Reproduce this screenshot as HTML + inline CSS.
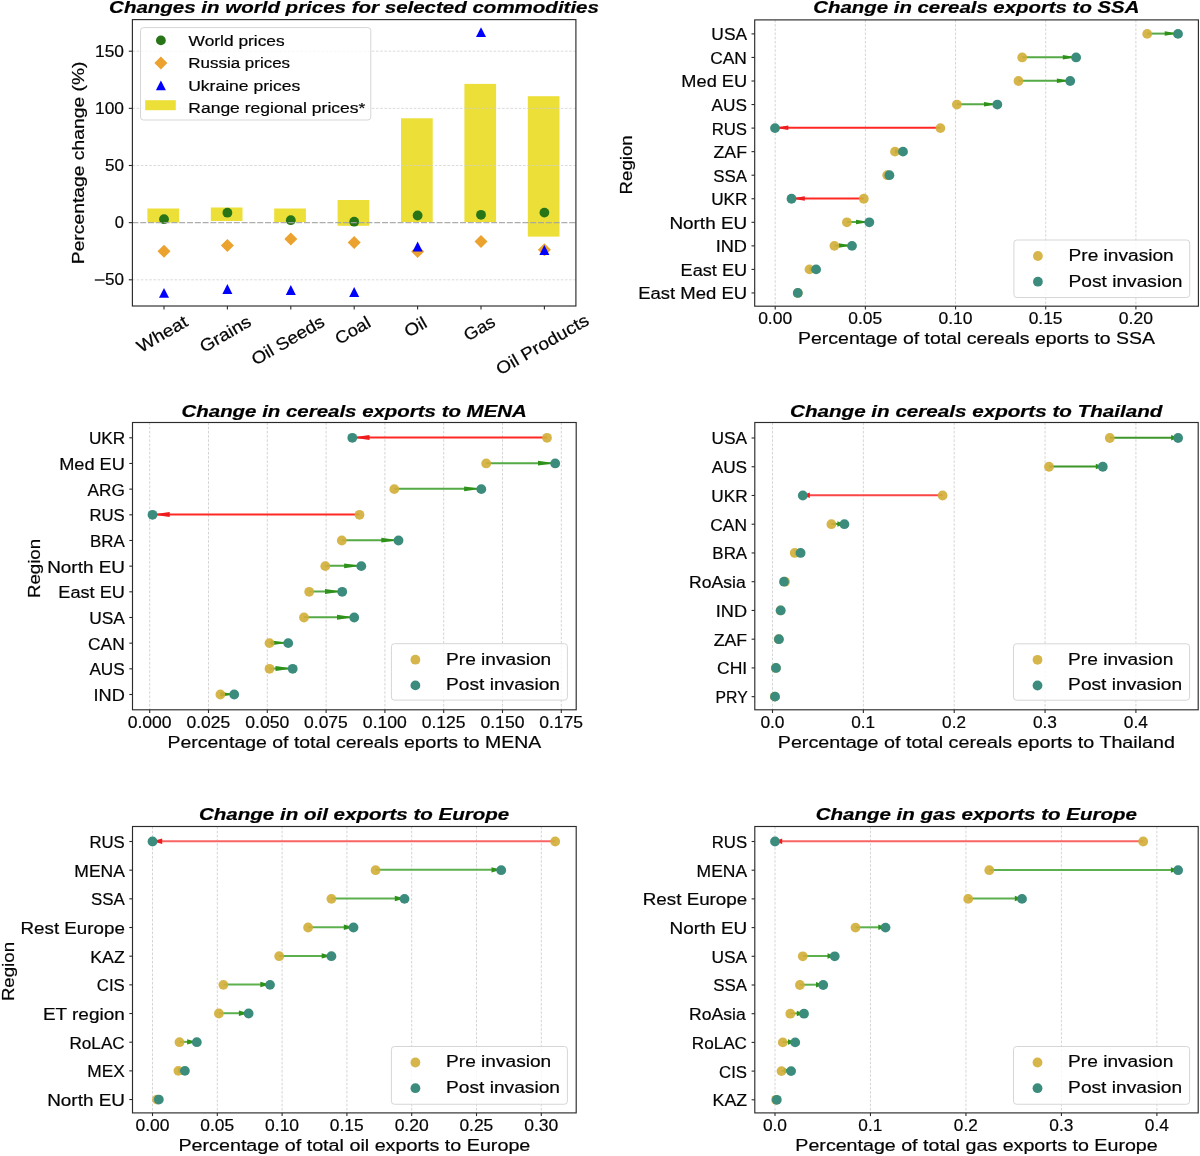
<!DOCTYPE html><html><head><meta charset="utf-8"><title>Commodity export changes</title><style>html,body{margin:0;padding:0;background:#fff;}svg{display:block;filter:blur(0.4px);}text{font-family:"Liberation Sans",sans-serif;stroke:#000;stroke-width:0.2px;}</style></head><body>
<svg width="1200" height="1156" viewBox="0 0 1200 1156">
<rect width="1200" height="1156" fill="#fff"/>
<rect x="147.40" y="208.50" width="31.7" height="14.00" fill="#ecdf38"/>
<rect x="210.80" y="207.50" width="31.7" height="13.50" fill="#ecdf38"/>
<rect x="274.20" y="208.50" width="31.7" height="13.60" fill="#ecdf38"/>
<rect x="337.60" y="200.00" width="31.7" height="25.80" fill="#ecdf38"/>
<rect x="401.00" y="118.30" width="31.7" height="103.70" fill="#ecdf38"/>
<rect x="464.40" y="83.90" width="31.7" height="138.10" fill="#ecdf38"/>
<rect x="527.80" y="96.20" width="31.7" height="140.40" fill="#ecdf38"/>
<line x1="132.40" y1="51.20" x2="575.90" y2="51.20" stroke="#d0d0d0" stroke-width="0.9" stroke-dasharray="2.6 1.6" stroke-opacity="0.85"/>
<line x1="132.40" y1="108.35" x2="575.90" y2="108.35" stroke="#d0d0d0" stroke-width="0.9" stroke-dasharray="2.6 1.6" stroke-opacity="0.85"/>
<line x1="132.40" y1="165.50" x2="575.90" y2="165.50" stroke="#d0d0d0" stroke-width="0.9" stroke-dasharray="2.6 1.6" stroke-opacity="0.85"/>
<line x1="132.40" y1="279.80" x2="575.90" y2="279.80" stroke="#d0d0d0" stroke-width="0.9" stroke-dasharray="2.6 1.6" stroke-opacity="0.85"/>
<circle cx="164.00" cy="219.20" r="4.9" fill="#277517"/>
<circle cx="227.40" cy="212.70" r="4.9" fill="#277517"/>
<circle cx="290.80" cy="220.20" r="4.9" fill="#277517"/>
<circle cx="354.20" cy="221.70" r="4.9" fill="#277517"/>
<circle cx="417.60" cy="215.50" r="4.9" fill="#277517"/>
<circle cx="481.00" cy="214.80" r="4.9" fill="#277517"/>
<circle cx="544.40" cy="212.60" r="4.9" fill="#277517"/>
<line x1="132.40" y1="222.65" x2="575.90" y2="222.65" stroke="#a4a4a4" stroke-width="1.35" stroke-dasharray="6 1.8" stroke-opacity="0.9"/>
<path d="M164.00 244.75 l6.5 6.5 l-6.5 6.5 l-6.5 -6.5 Z" fill="#eba22e"/>
<path d="M227.40 239.10 l6.5 6.5 l-6.5 6.5 l-6.5 -6.5 Z" fill="#eba22e"/>
<path d="M290.80 232.50 l6.5 6.5 l-6.5 6.5 l-6.5 -6.5 Z" fill="#eba22e"/>
<path d="M354.20 236.00 l6.5 6.5 l-6.5 6.5 l-6.5 -6.5 Z" fill="#eba22e"/>
<path d="M417.60 244.90 l6.5 6.5 l-6.5 6.5 l-6.5 -6.5 Z" fill="#eba22e"/>
<path d="M481.00 235.00 l6.5 6.5 l-6.5 6.5 l-6.5 -6.5 Z" fill="#eba22e"/>
<path d="M544.40 243.20 l6.5 6.5 l-6.5 6.5 l-6.5 -6.5 Z" fill="#eba22e"/>
<path d="M164.00 287.90 L169.00 297.80 L159.00 297.80 Z" fill="#0000ff"/>
<path d="M227.40 284.05 L232.40 293.95 L222.40 293.95 Z" fill="#0000ff"/>
<path d="M290.80 285.05 L295.80 294.95 L285.80 294.95 Z" fill="#0000ff"/>
<path d="M354.20 287.05 L359.20 296.95 L349.20 296.95 Z" fill="#0000ff"/>
<path d="M417.60 241.55 L422.60 251.45 L412.60 251.45 Z" fill="#0000ff"/>
<path d="M481.00 27.15 L486.00 37.05 L476.00 37.05 Z" fill="#0000ff"/>
<path d="M544.40 245.05 L549.40 254.95 L539.40 254.95 Z" fill="#0000ff"/>
<rect x="140.50" y="27.60" width="230.30" height="92.40" rx="3" ry="3" fill="#fff" fill-opacity="0.8" stroke="#d6d6d6" stroke-width="1"/>
<circle cx="160.9" cy="40.4" r="4.9" fill="#277517"/>
<path d="M160.9 56.4 l6.5 6.5 l-6.5 6.5 l-6.5 -6.5 Z" fill="#eba22e"/>
<path d="M160.9 80.4 L165.9 90.3 L155.9 90.3 Z" fill="#0000ff"/>
<rect x="145.2" y="100.2" width="30.6" height="10.0" fill="#ecdf38"/>
<text x="188.62" y="45.80" font-size="15.44" textLength="96.03" lengthAdjust="spacingAndGlyphs" fill="#050505">World prices</text>
<text x="188.32" y="68.25" font-size="15.44" textLength="101.79" lengthAdjust="spacingAndGlyphs" fill="#050505">Russia prices</text>
<text x="188.21" y="90.70" font-size="15.44" textLength="111.97" lengthAdjust="spacingAndGlyphs" fill="#050505">Ukraine prices</text>
<text x="188.28" y="113.15" font-size="15.44" textLength="177.10" lengthAdjust="spacingAndGlyphs" fill="#050505">Range regional prices*</text>
<rect x="132.40" y="19.60" width="443.50" height="286.40" fill="none" stroke="#2b2b2b" stroke-width="1.15"/>
<line x1="128.80" y1="51.20" x2="132.40" y2="51.20" stroke="#2b2b2b" stroke-width="1.1"/>
<text x="95.04" y="56.80" font-size="16.61" textLength="29.00" lengthAdjust="spacingAndGlyphs" fill="#050505">150</text>
<line x1="128.80" y1="108.35" x2="132.40" y2="108.35" stroke="#2b2b2b" stroke-width="1.1"/>
<text x="95.04" y="113.95" font-size="16.61" textLength="29.00" lengthAdjust="spacingAndGlyphs" fill="#050505">100</text>
<line x1="128.80" y1="165.50" x2="132.40" y2="165.50" stroke="#2b2b2b" stroke-width="1.1"/>
<text x="105.08" y="171.10" font-size="16.61" textLength="18.99" lengthAdjust="spacingAndGlyphs" fill="#050505">50</text>
<line x1="128.80" y1="222.65" x2="132.40" y2="222.65" stroke="#2b2b2b" stroke-width="1.1"/>
<text x="114.83" y="228.25" font-size="16.61" textLength="9.18" lengthAdjust="spacingAndGlyphs" fill="#050505">0</text>
<line x1="128.80" y1="279.80" x2="132.40" y2="279.80" stroke="#2b2b2b" stroke-width="1.1"/>
<text x="105.08" y="285.40" font-size="16.61" textLength="18.99" lengthAdjust="spacingAndGlyphs" fill="#050505">50</text>
<rect x="94.8" y="279.35" width="9.8" height="1.3" fill="#050505"/>
<line x1="164.00" y1="306.00" x2="164.00" y2="309.60" stroke="#2b2b2b" stroke-width="1.1"/>
<line x1="227.40" y1="306.00" x2="227.40" y2="309.60" stroke="#2b2b2b" stroke-width="1.1"/>
<line x1="290.80" y1="306.00" x2="290.80" y2="309.60" stroke="#2b2b2b" stroke-width="1.1"/>
<line x1="354.20" y1="306.00" x2="354.20" y2="309.60" stroke="#2b2b2b" stroke-width="1.1"/>
<line x1="417.60" y1="306.00" x2="417.60" y2="309.60" stroke="#2b2b2b" stroke-width="1.1"/>
<line x1="481.00" y1="306.00" x2="481.00" y2="309.60" stroke="#2b2b2b" stroke-width="1.1"/>
<line x1="544.40" y1="306.00" x2="544.40" y2="309.60" stroke="#2b2b2b" stroke-width="1.1"/>
<text x="137.23" y="339.09" font-size="17.23" textLength="55.66" lengthAdjust="spacingAndGlyphs" transform="rotate(-30 164.97 339.09)" fill="#050505">Wheat</text>
<text x="200.26" y="339.04" font-size="17.23" textLength="56.04" lengthAdjust="spacingAndGlyphs" transform="rotate(-30 228.37 339.04)" fill="#050505">Grains</text>
<text x="250.21" y="345.35" font-size="17.23" textLength="81.20" lengthAdjust="spacingAndGlyphs" transform="rotate(-30 290.87 345.35)" fill="#050505">Oil Seeds</text>
<text x="336.66" y="335.36" font-size="17.23" textLength="37.86" lengthAdjust="spacingAndGlyphs" transform="rotate(-30 355.77 335.36)" fill="#050505">Coal</text>
<text x="406.95" y="332.03" font-size="17.23" textLength="22.95" lengthAdjust="spacingAndGlyphs" transform="rotate(-30 418.57 332.03)" fill="#050505">Oil</text>
<text x="465.92" y="333.29" font-size="17.23" textLength="32.91" lengthAdjust="spacingAndGlyphs" transform="rotate(-30 482.47 333.29)" fill="#050505">Gas</text>
<text x="493.41" y="349.59" font-size="17.23" textLength="103.78" lengthAdjust="spacingAndGlyphs" transform="rotate(-30 545.37 349.59)" fill="#050505">Oil Products</text>
<text x="109.10" y="13.00" font-size="17.23" textLength="489.82" lengthAdjust="spacingAndGlyphs" font-weight="bold" font-style="italic" fill="#000">Changes in world prices for selected commodities</text>
<text x="-17.54" y="162.80" font-size="17.23" textLength="202.71" lengthAdjust="spacingAndGlyphs" transform="rotate(-90 83.90 162.80)" fill="#050505">Percentage change (%)</text>
<line x1="775.20" y1="19.90" x2="775.20" y2="306.20" stroke="#d0d0d0" stroke-width="0.9" stroke-dasharray="2.6 1.6"/>
<line x1="865.38" y1="19.90" x2="865.38" y2="306.20" stroke="#d0d0d0" stroke-width="0.9" stroke-dasharray="2.6 1.6"/>
<line x1="955.55" y1="19.90" x2="955.55" y2="306.20" stroke="#d0d0d0" stroke-width="0.9" stroke-dasharray="2.6 1.6"/>
<line x1="1045.72" y1="19.90" x2="1045.72" y2="306.20" stroke="#d0d0d0" stroke-width="0.9" stroke-dasharray="2.6 1.6"/>
<line x1="1135.90" y1="19.90" x2="1135.90" y2="306.20" stroke="#d0d0d0" stroke-width="0.9" stroke-dasharray="2.6 1.6"/>
<line x1="1147.20" y1="33.60" x2="1178.00" y2="33.60" stroke="#55aa46" stroke-width="2"/>
<path d="M1164.70 31.36 L1178.00 33.60 L1164.70 35.84 Z" fill="#2d911a"/>
<line x1="1022.20" y1="57.15" x2="1076.10" y2="57.15" stroke="#55aa46" stroke-width="2"/>
<path d="M1062.80 54.91 L1076.10 57.15 L1062.80 59.39 Z" fill="#2d911a"/>
<line x1="1018.50" y1="80.70" x2="1070.20" y2="80.70" stroke="#55aa46" stroke-width="2"/>
<path d="M1056.90 78.46 L1070.20 80.70 L1056.90 82.94 Z" fill="#2d911a"/>
<line x1="956.90" y1="104.25" x2="997.30" y2="104.25" stroke="#55aa46" stroke-width="2"/>
<path d="M984.00 102.01 L997.30 104.25 L984.00 106.49 Z" fill="#2d911a"/>
<line x1="940.40" y1="127.80" x2="775.00" y2="127.80" stroke="#ff2823" stroke-width="2"/>
<path d="M788.30 125.56 L775.00 127.80 L788.30 130.04 Z" fill="#ee1c1c"/>
<line x1="895.00" y1="151.35" x2="903.00" y2="151.35" stroke="#55aa46" stroke-width="2"/>
<path d="M895.00 149.11 L903.00 151.35 L895.00 153.59 Z" fill="#2d911a"/>
<line x1="887.20" y1="174.90" x2="889.40" y2="174.90" stroke="#55aa46" stroke-width="2"/>
<path d="M887.20 172.66 L889.40 174.90 L887.20 177.14 Z" fill="#2d911a"/>
<line x1="863.80" y1="198.45" x2="791.50" y2="198.45" stroke="#ff2823" stroke-width="2"/>
<path d="M804.80 196.21 L791.50 198.45 L804.80 200.69 Z" fill="#ee1c1c"/>
<line x1="846.90" y1="222.00" x2="869.30" y2="222.00" stroke="#55aa46" stroke-width="2"/>
<path d="M856.00 219.76 L869.30 222.00 L856.00 224.24 Z" fill="#2d911a"/>
<line x1="834.40" y1="245.55" x2="852.00" y2="245.55" stroke="#55aa46" stroke-width="2"/>
<path d="M838.70 243.31 L852.00 245.55 L838.70 247.79 Z" fill="#2d911a"/>
<line x1="809.50" y1="269.10" x2="816.10" y2="269.10" stroke="#55aa46" stroke-width="2"/>
<path d="M809.50 266.86 L816.10 269.10 L809.50 271.34 Z" fill="#2d911a"/>
<circle cx="1147.20" cy="33.90" r="4.9" fill="#d1ae37" fill-opacity="0.9"/>
<circle cx="1022.20" cy="57.45" r="4.9" fill="#d1ae37" fill-opacity="0.9"/>
<circle cx="1018.50" cy="81.00" r="4.9" fill="#d1ae37" fill-opacity="0.9"/>
<circle cx="956.90" cy="104.55" r="4.9" fill="#d1ae37" fill-opacity="0.9"/>
<circle cx="940.40" cy="128.10" r="4.9" fill="#d1ae37" fill-opacity="0.9"/>
<circle cx="895.00" cy="151.65" r="4.9" fill="#d1ae37" fill-opacity="0.9"/>
<circle cx="887.20" cy="175.20" r="4.9" fill="#d1ae37" fill-opacity="0.9"/>
<circle cx="863.80" cy="198.75" r="4.9" fill="#d1ae37" fill-opacity="0.9"/>
<circle cx="846.90" cy="222.30" r="4.9" fill="#d1ae37" fill-opacity="0.9"/>
<circle cx="834.40" cy="245.85" r="4.9" fill="#d1ae37" fill-opacity="0.9"/>
<circle cx="809.50" cy="269.40" r="4.9" fill="#d1ae37" fill-opacity="0.9"/>
<circle cx="797.80" cy="292.95" r="4.9" fill="#d1ae37" fill-opacity="0.9"/>
<circle cx="1178.00" cy="33.90" r="4.9" fill="#3b8c7d"/>
<circle cx="1076.10" cy="57.45" r="4.9" fill="#3b8c7d"/>
<circle cx="1070.20" cy="81.00" r="4.9" fill="#3b8c7d"/>
<circle cx="997.30" cy="104.55" r="4.9" fill="#3b8c7d"/>
<circle cx="775.00" cy="128.10" r="4.9" fill="#3b8c7d"/>
<circle cx="903.00" cy="151.65" r="4.9" fill="#3b8c7d"/>
<circle cx="889.40" cy="175.20" r="4.9" fill="#3b8c7d"/>
<circle cx="791.50" cy="198.75" r="4.9" fill="#3b8c7d"/>
<circle cx="869.30" cy="222.30" r="4.9" fill="#3b8c7d"/>
<circle cx="852.00" cy="245.85" r="4.9" fill="#3b8c7d"/>
<circle cx="816.10" cy="269.40" r="4.9" fill="#3b8c7d"/>
<circle cx="797.80" cy="292.95" r="4.9" fill="#3b8c7d"/>
<rect x="1013.90" y="240.00" width="175.80" height="57.50" rx="3" ry="3" fill="#fff" fill-opacity="0.8" stroke="#d6d6d6" stroke-width="1"/>
<circle cx="1037.90" cy="256.00" r="4.9" fill="#d1ae37" fill-opacity="0.9"/>
<circle cx="1037.90" cy="281.70" r="4.9" fill="#3b8c7d"/>
<text x="1068.52" y="260.80" font-size="17.23" textLength="105.23" lengthAdjust="spacingAndGlyphs" fill="#050505">Pre invasion</text>
<text x="1068.52" y="286.50" font-size="17.23" textLength="113.97" lengthAdjust="spacingAndGlyphs" fill="#050505">Post invasion</text>
<rect x="754.70" y="19.90" width="443.70" height="286.30" fill="none" stroke="#2b2b2b" stroke-width="1.15"/>
<line x1="775.20" y1="306.20" x2="775.20" y2="309.40" stroke="#2b2b2b" stroke-width="1.1"/>
<text x="758.15" y="324.20" font-size="16.61" textLength="34.06" lengthAdjust="spacingAndGlyphs" fill="#050505">0.00</text>
<line x1="865.38" y1="306.20" x2="865.38" y2="309.40" stroke="#2b2b2b" stroke-width="1.1"/>
<text x="848.33" y="324.20" font-size="16.61" textLength="33.78" lengthAdjust="spacingAndGlyphs" fill="#050505">0.05</text>
<line x1="955.55" y1="306.20" x2="955.55" y2="309.40" stroke="#2b2b2b" stroke-width="1.1"/>
<text x="938.50" y="324.20" font-size="16.61" textLength="34.06" lengthAdjust="spacingAndGlyphs" fill="#050505">0.10</text>
<line x1="1045.72" y1="306.20" x2="1045.72" y2="309.40" stroke="#2b2b2b" stroke-width="1.1"/>
<text x="1028.68" y="324.20" font-size="16.61" textLength="33.78" lengthAdjust="spacingAndGlyphs" fill="#050505">0.15</text>
<line x1="1135.90" y1="306.20" x2="1135.90" y2="309.40" stroke="#2b2b2b" stroke-width="1.1"/>
<text x="1118.85" y="324.20" font-size="16.61" textLength="34.06" lengthAdjust="spacingAndGlyphs" fill="#050505">0.20</text>
<line x1="751.50" y1="33.90" x2="754.70" y2="33.90" stroke="#2b2b2b" stroke-width="1.1"/>
<text x="711.37" y="40.30" font-size="17.23" textLength="35.69" lengthAdjust="spacingAndGlyphs" fill="#050505">USA</text>
<line x1="751.50" y1="57.45" x2="754.70" y2="57.45" stroke="#2b2b2b" stroke-width="1.1"/>
<text x="710.22" y="63.85" font-size="17.23" textLength="36.69" lengthAdjust="spacingAndGlyphs" fill="#050505">CAN</text>
<line x1="751.50" y1="81.00" x2="754.70" y2="81.00" stroke="#2b2b2b" stroke-width="1.1"/>
<text x="681.37" y="87.40" font-size="17.23" textLength="65.72" lengthAdjust="spacingAndGlyphs" fill="#050505">Med EU</text>
<line x1="751.50" y1="104.55" x2="754.70" y2="104.55" stroke="#2b2b2b" stroke-width="1.1"/>
<text x="711.60" y="110.95" font-size="17.23" textLength="35.38" lengthAdjust="spacingAndGlyphs" fill="#050505">AUS</text>
<line x1="751.50" y1="128.10" x2="754.70" y2="128.10" stroke="#2b2b2b" stroke-width="1.1"/>
<text x="711.64" y="134.50" font-size="17.23" textLength="35.35" lengthAdjust="spacingAndGlyphs" fill="#050505">RUS</text>
<line x1="751.50" y1="151.65" x2="754.70" y2="151.65" stroke="#2b2b2b" stroke-width="1.1"/>
<text x="713.58" y="158.05" font-size="17.23" textLength="33.36" lengthAdjust="spacingAndGlyphs" fill="#050505">ZAF</text>
<line x1="751.50" y1="175.20" x2="754.70" y2="175.20" stroke="#2b2b2b" stroke-width="1.1"/>
<text x="713.25" y="181.60" font-size="17.23" textLength="33.79" lengthAdjust="spacingAndGlyphs" fill="#050505">SSA</text>
<line x1="751.50" y1="198.75" x2="754.70" y2="198.75" stroke="#2b2b2b" stroke-width="1.1"/>
<text x="711.15" y="205.15" font-size="17.23" textLength="36.32" lengthAdjust="spacingAndGlyphs" fill="#050505">UKR</text>
<line x1="751.50" y1="222.30" x2="754.70" y2="222.30" stroke="#2b2b2b" stroke-width="1.1"/>
<text x="669.41" y="228.70" font-size="17.23" textLength="77.76" lengthAdjust="spacingAndGlyphs" fill="#050505">North EU</text>
<line x1="751.50" y1="245.85" x2="754.70" y2="245.85" stroke="#2b2b2b" stroke-width="1.1"/>
<text x="715.67" y="252.25" font-size="17.23" textLength="31.34" lengthAdjust="spacingAndGlyphs" fill="#050505">IND</text>
<line x1="751.50" y1="269.40" x2="754.70" y2="269.40" stroke="#2b2b2b" stroke-width="1.1"/>
<text x="680.59" y="275.80" font-size="17.23" textLength="66.51" lengthAdjust="spacingAndGlyphs" fill="#050505">East EU</text>
<line x1="751.50" y1="292.95" x2="754.70" y2="292.95" stroke="#2b2b2b" stroke-width="1.1"/>
<text x="638.27" y="299.35" font-size="17.23" textLength="108.81" lengthAdjust="spacingAndGlyphs" fill="#050505">East Med EU</text>
<text x="813.38" y="13.30" font-size="17.23" textLength="326.01" lengthAdjust="spacingAndGlyphs" font-weight="bold" font-style="italic" fill="#000">Change in cereals exports to SSA</text>
<text x="798.06" y="344.00" font-size="17.23" textLength="356.95" lengthAdjust="spacingAndGlyphs" fill="#050505">Percentage of total cereals eports to SSA</text>
<text x="602.67" y="164.75" font-size="17.23" textLength="59.16" lengthAdjust="spacingAndGlyphs" transform="rotate(-90 632.30 164.75)" fill="#050505">Region</text>
<line x1="149.70" y1="422.50" x2="149.70" y2="709.80" stroke="#d0d0d0" stroke-width="0.9" stroke-dasharray="2.6 1.6"/>
<line x1="208.50" y1="422.50" x2="208.50" y2="709.80" stroke="#d0d0d0" stroke-width="0.9" stroke-dasharray="2.6 1.6"/>
<line x1="267.30" y1="422.50" x2="267.30" y2="709.80" stroke="#d0d0d0" stroke-width="0.9" stroke-dasharray="2.6 1.6"/>
<line x1="326.10" y1="422.50" x2="326.10" y2="709.80" stroke="#d0d0d0" stroke-width="0.9" stroke-dasharray="2.6 1.6"/>
<line x1="384.90" y1="422.50" x2="384.90" y2="709.80" stroke="#d0d0d0" stroke-width="0.9" stroke-dasharray="2.6 1.6"/>
<line x1="443.70" y1="422.50" x2="443.70" y2="709.80" stroke="#d0d0d0" stroke-width="0.9" stroke-dasharray="2.6 1.6"/>
<line x1="502.50" y1="422.50" x2="502.50" y2="709.80" stroke="#d0d0d0" stroke-width="0.9" stroke-dasharray="2.6 1.6"/>
<line x1="561.30" y1="422.50" x2="561.30" y2="709.80" stroke="#d0d0d0" stroke-width="0.9" stroke-dasharray="2.6 1.6"/>
<line x1="547.00" y1="437.50" x2="352.30" y2="437.50" stroke="#ff2823" stroke-width="2"/>
<path d="M369.50 435.06 L352.30 437.50 L369.50 439.94 Z" fill="#ee1c1c"/>
<line x1="486.20" y1="463.17" x2="555.20" y2="463.17" stroke="#55aa46" stroke-width="2"/>
<path d="M538.00 460.73 L555.20 463.17 L538.00 465.61 Z" fill="#2d911a"/>
<line x1="394.30" y1="488.84" x2="481.30" y2="488.84" stroke="#55aa46" stroke-width="2"/>
<path d="M464.10 486.40 L481.30 488.84 L464.10 491.28 Z" fill="#2d911a"/>
<line x1="359.50" y1="514.51" x2="152.50" y2="514.51" stroke="#ff2823" stroke-width="2"/>
<path d="M169.70 512.07 L152.50 514.51 L169.70 516.95 Z" fill="#ee1c1c"/>
<line x1="341.80" y1="540.18" x2="398.50" y2="540.18" stroke="#55aa46" stroke-width="2"/>
<path d="M381.30 537.74 L398.50 540.18 L381.30 542.62 Z" fill="#2d911a"/>
<line x1="325.30" y1="565.85" x2="361.30" y2="565.85" stroke="#55aa46" stroke-width="2"/>
<path d="M344.10 563.41 L361.30 565.85 L344.10 568.29 Z" fill="#2d911a"/>
<line x1="309.20" y1="591.52" x2="342.20" y2="591.52" stroke="#55aa46" stroke-width="2"/>
<path d="M325.00 589.08 L342.20 591.52 L325.00 593.96 Z" fill="#2d911a"/>
<line x1="304.00" y1="617.19" x2="354.20" y2="617.19" stroke="#55aa46" stroke-width="2"/>
<path d="M337.00 614.75 L354.20 617.19 L337.00 619.63 Z" fill="#2d911a"/>
<line x1="269.50" y1="642.86" x2="288.20" y2="642.86" stroke="#55aa46" stroke-width="2"/>
<path d="M271.00 640.42 L288.20 642.86 L271.00 645.30 Z" fill="#2d911a"/>
<line x1="269.50" y1="668.53" x2="292.70" y2="668.53" stroke="#55aa46" stroke-width="2"/>
<path d="M275.50 666.09 L292.70 668.53 L275.50 670.97 Z" fill="#2d911a"/>
<line x1="220.40" y1="694.20" x2="234.20" y2="694.20" stroke="#55aa46" stroke-width="2"/>
<path d="M220.40 691.76 L234.20 694.20 L220.40 696.64 Z" fill="#2d911a"/>
<circle cx="547.00" cy="437.80" r="4.9" fill="#d1ae37" fill-opacity="0.9"/>
<circle cx="486.20" cy="463.47" r="4.9" fill="#d1ae37" fill-opacity="0.9"/>
<circle cx="394.30" cy="489.14" r="4.9" fill="#d1ae37" fill-opacity="0.9"/>
<circle cx="359.50" cy="514.81" r="4.9" fill="#d1ae37" fill-opacity="0.9"/>
<circle cx="341.80" cy="540.48" r="4.9" fill="#d1ae37" fill-opacity="0.9"/>
<circle cx="325.30" cy="566.15" r="4.9" fill="#d1ae37" fill-opacity="0.9"/>
<circle cx="309.20" cy="591.82" r="4.9" fill="#d1ae37" fill-opacity="0.9"/>
<circle cx="304.00" cy="617.49" r="4.9" fill="#d1ae37" fill-opacity="0.9"/>
<circle cx="269.50" cy="643.16" r="4.9" fill="#d1ae37" fill-opacity="0.9"/>
<circle cx="269.50" cy="668.83" r="4.9" fill="#d1ae37" fill-opacity="0.9"/>
<circle cx="220.40" cy="694.50" r="4.9" fill="#d1ae37" fill-opacity="0.9"/>
<circle cx="352.30" cy="437.80" r="4.9" fill="#3b8c7d"/>
<circle cx="555.20" cy="463.47" r="4.9" fill="#3b8c7d"/>
<circle cx="481.30" cy="489.14" r="4.9" fill="#3b8c7d"/>
<circle cx="152.50" cy="514.81" r="4.9" fill="#3b8c7d"/>
<circle cx="398.50" cy="540.48" r="4.9" fill="#3b8c7d"/>
<circle cx="361.30" cy="566.15" r="4.9" fill="#3b8c7d"/>
<circle cx="342.20" cy="591.82" r="4.9" fill="#3b8c7d"/>
<circle cx="354.20" cy="617.49" r="4.9" fill="#3b8c7d"/>
<circle cx="288.20" cy="643.16" r="4.9" fill="#3b8c7d"/>
<circle cx="292.70" cy="668.83" r="4.9" fill="#3b8c7d"/>
<circle cx="234.20" cy="694.50" r="4.9" fill="#3b8c7d"/>
<rect x="391.40" y="643.70" width="176.00" height="56.40" rx="3" ry="3" fill="#fff" fill-opacity="0.8" stroke="#d6d6d6" stroke-width="1"/>
<circle cx="415.40" cy="659.70" r="4.9" fill="#d1ae37" fill-opacity="0.9"/>
<circle cx="415.40" cy="685.40" r="4.9" fill="#3b8c7d"/>
<text x="446.02" y="664.50" font-size="17.23" textLength="105.23" lengthAdjust="spacingAndGlyphs" fill="#050505">Pre invasion</text>
<text x="446.02" y="690.20" font-size="17.23" textLength="113.97" lengthAdjust="spacingAndGlyphs" fill="#050505">Post invasion</text>
<rect x="132.50" y="422.50" width="443.70" height="287.30" fill="none" stroke="#2b2b2b" stroke-width="1.15"/>
<line x1="149.70" y1="709.80" x2="149.70" y2="713.00" stroke="#2b2b2b" stroke-width="1.1"/>
<text x="127.68" y="727.80" font-size="16.61" textLength="43.99" lengthAdjust="spacingAndGlyphs" fill="#050505">0.000</text>
<line x1="208.50" y1="709.80" x2="208.50" y2="713.00" stroke="#2b2b2b" stroke-width="1.1"/>
<text x="186.48" y="727.80" font-size="16.61" textLength="43.71" lengthAdjust="spacingAndGlyphs" fill="#050505">0.025</text>
<line x1="267.30" y1="709.80" x2="267.30" y2="713.00" stroke="#2b2b2b" stroke-width="1.1"/>
<text x="245.28" y="727.80" font-size="16.61" textLength="43.99" lengthAdjust="spacingAndGlyphs" fill="#050505">0.050</text>
<line x1="326.10" y1="709.80" x2="326.10" y2="713.00" stroke="#2b2b2b" stroke-width="1.1"/>
<text x="304.08" y="727.80" font-size="16.61" textLength="43.71" lengthAdjust="spacingAndGlyphs" fill="#050505">0.075</text>
<line x1="384.90" y1="709.80" x2="384.90" y2="713.00" stroke="#2b2b2b" stroke-width="1.1"/>
<text x="362.88" y="727.80" font-size="16.61" textLength="43.99" lengthAdjust="spacingAndGlyphs" fill="#050505">0.100</text>
<line x1="443.70" y1="709.80" x2="443.70" y2="713.00" stroke="#2b2b2b" stroke-width="1.1"/>
<text x="421.68" y="727.80" font-size="16.61" textLength="43.71" lengthAdjust="spacingAndGlyphs" fill="#050505">0.125</text>
<line x1="502.50" y1="709.80" x2="502.50" y2="713.00" stroke="#2b2b2b" stroke-width="1.1"/>
<text x="480.48" y="727.80" font-size="16.61" textLength="43.99" lengthAdjust="spacingAndGlyphs" fill="#050505">0.150</text>
<line x1="561.30" y1="709.80" x2="561.30" y2="713.00" stroke="#2b2b2b" stroke-width="1.1"/>
<text x="539.28" y="727.80" font-size="16.61" textLength="43.71" lengthAdjust="spacingAndGlyphs" fill="#050505">0.175</text>
<line x1="129.30" y1="437.80" x2="132.50" y2="437.80" stroke="#2b2b2b" stroke-width="1.1"/>
<text x="88.95" y="444.20" font-size="17.23" textLength="36.32" lengthAdjust="spacingAndGlyphs" fill="#050505">UKR</text>
<line x1="129.30" y1="463.47" x2="132.50" y2="463.47" stroke="#2b2b2b" stroke-width="1.1"/>
<text x="59.17" y="469.87" font-size="17.23" textLength="65.72" lengthAdjust="spacingAndGlyphs" fill="#050505">Med EU</text>
<line x1="129.30" y1="489.14" x2="132.50" y2="489.14" stroke="#2b2b2b" stroke-width="1.1"/>
<text x="87.61" y="495.54" font-size="17.23" textLength="37.26" lengthAdjust="spacingAndGlyphs" fill="#050505">ARG</text>
<line x1="129.30" y1="514.81" x2="132.50" y2="514.81" stroke="#2b2b2b" stroke-width="1.1"/>
<text x="89.44" y="521.21" font-size="17.23" textLength="35.35" lengthAdjust="spacingAndGlyphs" fill="#050505">RUS</text>
<line x1="129.30" y1="540.48" x2="132.50" y2="540.48" stroke="#2b2b2b" stroke-width="1.1"/>
<text x="90.07" y="546.88" font-size="17.23" textLength="34.78" lengthAdjust="spacingAndGlyphs" fill="#050505">BRA</text>
<line x1="129.30" y1="566.15" x2="132.50" y2="566.15" stroke="#2b2b2b" stroke-width="1.1"/>
<text x="47.21" y="572.55" font-size="17.23" textLength="77.76" lengthAdjust="spacingAndGlyphs" fill="#050505">North EU</text>
<line x1="129.30" y1="591.82" x2="132.50" y2="591.82" stroke="#2b2b2b" stroke-width="1.1"/>
<text x="58.39" y="598.22" font-size="17.23" textLength="66.51" lengthAdjust="spacingAndGlyphs" fill="#050505">East EU</text>
<line x1="129.30" y1="617.49" x2="132.50" y2="617.49" stroke="#2b2b2b" stroke-width="1.1"/>
<text x="89.17" y="623.89" font-size="17.23" textLength="35.69" lengthAdjust="spacingAndGlyphs" fill="#050505">USA</text>
<line x1="129.30" y1="643.16" x2="132.50" y2="643.16" stroke="#2b2b2b" stroke-width="1.1"/>
<text x="88.02" y="649.56" font-size="17.23" textLength="36.69" lengthAdjust="spacingAndGlyphs" fill="#050505">CAN</text>
<line x1="129.30" y1="668.83" x2="132.50" y2="668.83" stroke="#2b2b2b" stroke-width="1.1"/>
<text x="89.40" y="675.23" font-size="17.23" textLength="35.38" lengthAdjust="spacingAndGlyphs" fill="#050505">AUS</text>
<line x1="129.30" y1="694.50" x2="132.50" y2="694.50" stroke="#2b2b2b" stroke-width="1.1"/>
<text x="93.47" y="700.90" font-size="17.23" textLength="31.34" lengthAdjust="spacingAndGlyphs" fill="#050505">IND</text>
<text x="181.52" y="416.90" font-size="17.23" textLength="345.29" lengthAdjust="spacingAndGlyphs" font-weight="bold" font-style="italic" fill="#000">Change in cereals exports to MENA</text>
<text x="167.55" y="747.90" font-size="17.23" textLength="373.58" lengthAdjust="spacingAndGlyphs" fill="#050505">Percentage of total cereals eports to MENA</text>
<text x="10.57" y="568.40" font-size="17.23" textLength="59.16" lengthAdjust="spacingAndGlyphs" transform="rotate(-90 40.20 568.40)" fill="#050505">Region</text>
<line x1="772.50" y1="422.50" x2="772.50" y2="709.80" stroke="#d0d0d0" stroke-width="0.9" stroke-dasharray="2.6 1.6"/>
<line x1="863.35" y1="422.50" x2="863.35" y2="709.80" stroke="#d0d0d0" stroke-width="0.9" stroke-dasharray="2.6 1.6"/>
<line x1="954.20" y1="422.50" x2="954.20" y2="709.80" stroke="#d0d0d0" stroke-width="0.9" stroke-dasharray="2.6 1.6"/>
<line x1="1045.05" y1="422.50" x2="1045.05" y2="709.80" stroke="#d0d0d0" stroke-width="0.9" stroke-dasharray="2.6 1.6"/>
<line x1="1135.90" y1="422.50" x2="1135.90" y2="709.80" stroke="#d0d0d0" stroke-width="0.9" stroke-dasharray="2.6 1.6"/>
<line x1="1109.80" y1="437.70" x2="1178.10" y2="437.70" stroke="#3c9628" stroke-width="2"/>
<path d="M1171.10 434.97 L1178.10 437.70 L1171.10 440.43 Z" fill="#2d911a"/>
<line x1="1049.00" y1="466.44" x2="1102.80" y2="466.44" stroke="#3c9628" stroke-width="2"/>
<path d="M1095.80 463.71 L1102.80 466.44 L1095.80 469.17 Z" fill="#2d911a"/>
<line x1="942.60" y1="495.18" x2="802.80" y2="495.18" stroke="#fa4646" stroke-width="2"/>
<path d="M809.80 492.45 L802.80 495.18 L809.80 497.91 Z" fill="#ee1c1c"/>
<line x1="831.40" y1="523.92" x2="844.40" y2="523.92" stroke="#3c9628" stroke-width="2"/>
<path d="M837.40 521.19 L844.40 523.92 L837.40 526.65 Z" fill="#2d911a"/>
<line x1="794.70" y1="552.66" x2="800.60" y2="552.66" stroke="#3c9628" stroke-width="2"/>
<path d="M794.70 549.93 L800.60 552.66 L794.70 555.39 Z" fill="#2d911a"/>
<line x1="785.00" y1="581.40" x2="784.00" y2="581.40" stroke="#fa4646" stroke-width="2"/>
<path d="M785.00 578.67 L784.00 581.40 L785.00 584.13 Z" fill="#ee1c1c"/>
<circle cx="1109.80" cy="438.00" r="4.9" fill="#d1ae37" fill-opacity="0.9"/>
<circle cx="1049.00" cy="466.74" r="4.9" fill="#d1ae37" fill-opacity="0.9"/>
<circle cx="942.60" cy="495.48" r="4.9" fill="#d1ae37" fill-opacity="0.9"/>
<circle cx="831.40" cy="524.22" r="4.9" fill="#d1ae37" fill-opacity="0.9"/>
<circle cx="794.70" cy="552.96" r="4.9" fill="#d1ae37" fill-opacity="0.9"/>
<circle cx="785.00" cy="581.70" r="4.9" fill="#d1ae37" fill-opacity="0.9"/>
<circle cx="780.50" cy="610.44" r="4.9" fill="#d1ae37" fill-opacity="0.9"/>
<circle cx="778.70" cy="639.18" r="4.9" fill="#d1ae37" fill-opacity="0.9"/>
<circle cx="775.80" cy="667.92" r="4.9" fill="#d1ae37" fill-opacity="0.9"/>
<circle cx="774.80" cy="696.66" r="4.9" fill="#d1ae37" fill-opacity="0.9"/>
<circle cx="1178.10" cy="438.00" r="4.9" fill="#3b8c7d"/>
<circle cx="1102.80" cy="466.74" r="4.9" fill="#3b8c7d"/>
<circle cx="802.80" cy="495.48" r="4.9" fill="#3b8c7d"/>
<circle cx="844.40" cy="524.22" r="4.9" fill="#3b8c7d"/>
<circle cx="800.60" cy="552.96" r="4.9" fill="#3b8c7d"/>
<circle cx="784.00" cy="581.70" r="4.9" fill="#3b8c7d"/>
<circle cx="780.70" cy="610.44" r="4.9" fill="#3b8c7d"/>
<circle cx="778.90" cy="639.18" r="4.9" fill="#3b8c7d"/>
<circle cx="776.00" cy="667.92" r="4.9" fill="#3b8c7d"/>
<circle cx="775.00" cy="696.66" r="4.9" fill="#3b8c7d"/>
<rect x="1013.50" y="643.80" width="176.10" height="56.40" rx="3" ry="3" fill="#fff" fill-opacity="0.8" stroke="#d6d6d6" stroke-width="1"/>
<circle cx="1037.50" cy="659.80" r="4.9" fill="#d1ae37" fill-opacity="0.9"/>
<circle cx="1037.50" cy="685.50" r="4.9" fill="#3b8c7d"/>
<text x="1068.12" y="664.60" font-size="17.23" textLength="105.23" lengthAdjust="spacingAndGlyphs" fill="#050505">Pre invasion</text>
<text x="1068.12" y="690.30" font-size="17.23" textLength="113.97" lengthAdjust="spacingAndGlyphs" fill="#050505">Post invasion</text>
<rect x="754.80" y="422.50" width="443.40" height="287.30" fill="none" stroke="#2b2b2b" stroke-width="1.15"/>
<line x1="772.50" y1="709.80" x2="772.50" y2="713.00" stroke="#2b2b2b" stroke-width="1.1"/>
<text x="760.41" y="727.80" font-size="16.61" textLength="24.12" lengthAdjust="spacingAndGlyphs" fill="#050505">0.0</text>
<line x1="863.35" y1="709.80" x2="863.35" y2="713.00" stroke="#2b2b2b" stroke-width="1.1"/>
<text x="851.27" y="727.80" font-size="16.61" textLength="23.89" lengthAdjust="spacingAndGlyphs" fill="#050505">0.1</text>
<line x1="954.20" y1="709.80" x2="954.20" y2="713.00" stroke="#2b2b2b" stroke-width="1.1"/>
<text x="942.12" y="727.80" font-size="16.61" textLength="23.81" lengthAdjust="spacingAndGlyphs" fill="#050505">0.2</text>
<line x1="1045.05" y1="709.80" x2="1045.05" y2="713.00" stroke="#2b2b2b" stroke-width="1.1"/>
<text x="1032.97" y="727.80" font-size="16.61" textLength="24.01" lengthAdjust="spacingAndGlyphs" fill="#050505">0.3</text>
<line x1="1135.90" y1="709.80" x2="1135.90" y2="713.00" stroke="#2b2b2b" stroke-width="1.1"/>
<text x="1123.82" y="727.80" font-size="16.61" textLength="24.11" lengthAdjust="spacingAndGlyphs" fill="#050505">0.4</text>
<line x1="751.60" y1="438.00" x2="754.80" y2="438.00" stroke="#2b2b2b" stroke-width="1.1"/>
<text x="711.47" y="444.40" font-size="17.23" textLength="35.69" lengthAdjust="spacingAndGlyphs" fill="#050505">USA</text>
<line x1="751.60" y1="466.74" x2="754.80" y2="466.74" stroke="#2b2b2b" stroke-width="1.1"/>
<text x="711.70" y="473.14" font-size="17.23" textLength="35.38" lengthAdjust="spacingAndGlyphs" fill="#050505">AUS</text>
<line x1="751.60" y1="495.48" x2="754.80" y2="495.48" stroke="#2b2b2b" stroke-width="1.1"/>
<text x="711.25" y="501.88" font-size="17.23" textLength="36.32" lengthAdjust="spacingAndGlyphs" fill="#050505">UKR</text>
<line x1="751.60" y1="524.22" x2="754.80" y2="524.22" stroke="#2b2b2b" stroke-width="1.1"/>
<text x="710.32" y="530.62" font-size="17.23" textLength="36.69" lengthAdjust="spacingAndGlyphs" fill="#050505">CAN</text>
<line x1="751.60" y1="552.96" x2="754.80" y2="552.96" stroke="#2b2b2b" stroke-width="1.1"/>
<text x="712.37" y="559.36" font-size="17.23" textLength="34.78" lengthAdjust="spacingAndGlyphs" fill="#050505">BRA</text>
<line x1="751.60" y1="581.70" x2="754.80" y2="581.70" stroke="#2b2b2b" stroke-width="1.1"/>
<text x="689.13" y="588.10" font-size="17.23" textLength="56.58" lengthAdjust="spacingAndGlyphs" fill="#050505">RoAsia</text>
<line x1="751.60" y1="610.44" x2="754.80" y2="610.44" stroke="#2b2b2b" stroke-width="1.1"/>
<text x="715.77" y="616.84" font-size="17.23" textLength="31.34" lengthAdjust="spacingAndGlyphs" fill="#050505">IND</text>
<line x1="751.60" y1="639.18" x2="754.80" y2="639.18" stroke="#2b2b2b" stroke-width="1.1"/>
<text x="713.68" y="645.58" font-size="17.23" textLength="33.36" lengthAdjust="spacingAndGlyphs" fill="#050505">ZAF</text>
<line x1="751.60" y1="667.92" x2="754.80" y2="667.92" stroke="#2b2b2b" stroke-width="1.1"/>
<text x="717.02" y="674.32" font-size="17.23" textLength="30.20" lengthAdjust="spacingAndGlyphs" fill="#050505">CHI</text>
<line x1="751.60" y1="696.66" x2="754.80" y2="696.66" stroke="#2b2b2b" stroke-width="1.1"/>
<text x="715.60" y="703.06" font-size="17.23" textLength="32.11" lengthAdjust="spacingAndGlyphs" fill="#050505">PRY</text>
<text x="790.02" y="416.90" font-size="17.23" textLength="372.38" lengthAdjust="spacingAndGlyphs" font-weight="bold" font-style="italic" fill="#000">Change in cereals exports to Thailand</text>
<text x="777.78" y="747.90" font-size="17.23" textLength="397.21" lengthAdjust="spacingAndGlyphs" fill="#050505">Percentage of total cereals eports to Thailand</text>
<line x1="152.50" y1="826.50" x2="152.50" y2="1112.90" stroke="#d0d0d0" stroke-width="0.9" stroke-dasharray="2.6 1.6"/>
<line x1="217.30" y1="826.50" x2="217.30" y2="1112.90" stroke="#d0d0d0" stroke-width="0.9" stroke-dasharray="2.6 1.6"/>
<line x1="282.10" y1="826.50" x2="282.10" y2="1112.90" stroke="#d0d0d0" stroke-width="0.9" stroke-dasharray="2.6 1.6"/>
<line x1="346.90" y1="826.50" x2="346.90" y2="1112.90" stroke="#d0d0d0" stroke-width="0.9" stroke-dasharray="2.6 1.6"/>
<line x1="411.70" y1="826.50" x2="411.70" y2="1112.90" stroke="#d0d0d0" stroke-width="0.9" stroke-dasharray="2.6 1.6"/>
<line x1="476.50" y1="826.50" x2="476.50" y2="1112.90" stroke="#d0d0d0" stroke-width="0.9" stroke-dasharray="2.6 1.6"/>
<line x1="541.30" y1="826.50" x2="541.30" y2="1112.90" stroke="#d0d0d0" stroke-width="0.9" stroke-dasharray="2.6 1.6"/>
<line x1="555.20" y1="841.20" x2="152.50" y2="841.20" stroke="#fa6464" stroke-width="2"/>
<path d="M162.20 838.48 L152.50 841.20 L162.20 843.92 Z" fill="#ee1c1c"/>
<line x1="375.60" y1="869.87" x2="501.20" y2="869.87" stroke="#5cb04e" stroke-width="2"/>
<path d="M491.50 867.15 L501.20 869.87 L491.50 872.59 Z" fill="#2d911a"/>
<line x1="331.40" y1="898.54" x2="404.50" y2="898.54" stroke="#5cb04e" stroke-width="2"/>
<path d="M394.80 895.82 L404.50 898.54 L394.80 901.26 Z" fill="#2d911a"/>
<line x1="308.10" y1="927.21" x2="353.50" y2="927.21" stroke="#5cb04e" stroke-width="2"/>
<path d="M343.80 924.49 L353.50 927.21 L343.80 929.93 Z" fill="#2d911a"/>
<line x1="279.20" y1="955.88" x2="331.40" y2="955.88" stroke="#5cb04e" stroke-width="2"/>
<path d="M321.70 953.16 L331.40 955.88 L321.70 958.60 Z" fill="#2d911a"/>
<line x1="223.40" y1="984.55" x2="270.00" y2="984.55" stroke="#5cb04e" stroke-width="2"/>
<path d="M260.30 981.83 L270.00 984.55 L260.30 987.27 Z" fill="#2d911a"/>
<line x1="218.90" y1="1013.22" x2="248.60" y2="1013.22" stroke="#5cb04e" stroke-width="2"/>
<path d="M238.90 1010.50 L248.60 1013.22 L238.90 1015.94 Z" fill="#2d911a"/>
<line x1="179.50" y1="1041.89" x2="196.80" y2="1041.89" stroke="#5cb04e" stroke-width="2"/>
<path d="M187.10 1039.17 L196.80 1041.89 L187.10 1044.61 Z" fill="#2d911a"/>
<line x1="178.40" y1="1070.56" x2="184.90" y2="1070.56" stroke="#5cb04e" stroke-width="2"/>
<path d="M178.40 1067.84 L184.90 1070.56 L178.40 1073.28 Z" fill="#2d911a"/>
<line x1="157.00" y1="1099.23" x2="158.80" y2="1099.23" stroke="#5cb04e" stroke-width="2"/>
<path d="M157.00 1096.51 L158.80 1099.23 L157.00 1101.95 Z" fill="#2d911a"/>
<circle cx="555.20" cy="841.50" r="4.9" fill="#d1ae37" fill-opacity="0.9"/>
<circle cx="375.60" cy="870.17" r="4.9" fill="#d1ae37" fill-opacity="0.9"/>
<circle cx="331.40" cy="898.84" r="4.9" fill="#d1ae37" fill-opacity="0.9"/>
<circle cx="308.10" cy="927.51" r="4.9" fill="#d1ae37" fill-opacity="0.9"/>
<circle cx="279.20" cy="956.18" r="4.9" fill="#d1ae37" fill-opacity="0.9"/>
<circle cx="223.40" cy="984.85" r="4.9" fill="#d1ae37" fill-opacity="0.9"/>
<circle cx="218.90" cy="1013.52" r="4.9" fill="#d1ae37" fill-opacity="0.9"/>
<circle cx="179.50" cy="1042.19" r="4.9" fill="#d1ae37" fill-opacity="0.9"/>
<circle cx="178.40" cy="1070.86" r="4.9" fill="#d1ae37" fill-opacity="0.9"/>
<circle cx="157.00" cy="1099.53" r="4.9" fill="#d1ae37" fill-opacity="0.9"/>
<circle cx="152.50" cy="841.50" r="4.9" fill="#3b8c7d"/>
<circle cx="501.20" cy="870.17" r="4.9" fill="#3b8c7d"/>
<circle cx="404.50" cy="898.84" r="4.9" fill="#3b8c7d"/>
<circle cx="353.50" cy="927.51" r="4.9" fill="#3b8c7d"/>
<circle cx="331.40" cy="956.18" r="4.9" fill="#3b8c7d"/>
<circle cx="270.00" cy="984.85" r="4.9" fill="#3b8c7d"/>
<circle cx="248.60" cy="1013.52" r="4.9" fill="#3b8c7d"/>
<circle cx="196.80" cy="1042.19" r="4.9" fill="#3b8c7d"/>
<circle cx="184.90" cy="1070.86" r="4.9" fill="#3b8c7d"/>
<circle cx="158.80" cy="1099.53" r="4.9" fill="#3b8c7d"/>
<rect x="391.40" y="1046.50" width="176.00" height="57.75" rx="3" ry="3" fill="#fff" fill-opacity="0.8" stroke="#d6d6d6" stroke-width="1"/>
<circle cx="415.40" cy="1062.50" r="4.9" fill="#d1ae37" fill-opacity="0.9"/>
<circle cx="415.40" cy="1088.20" r="4.9" fill="#3b8c7d"/>
<text x="446.02" y="1067.30" font-size="17.23" textLength="105.23" lengthAdjust="spacingAndGlyphs" fill="#050505">Pre invasion</text>
<text x="446.02" y="1093.00" font-size="17.23" textLength="113.97" lengthAdjust="spacingAndGlyphs" fill="#050505">Post invasion</text>
<rect x="132.50" y="826.50" width="443.70" height="286.40" fill="none" stroke="#2b2b2b" stroke-width="1.15"/>
<line x1="152.50" y1="1112.90" x2="152.50" y2="1116.10" stroke="#2b2b2b" stroke-width="1.1"/>
<text x="135.45" y="1130.90" font-size="16.61" textLength="34.06" lengthAdjust="spacingAndGlyphs" fill="#050505">0.00</text>
<line x1="217.30" y1="1112.90" x2="217.30" y2="1116.10" stroke="#2b2b2b" stroke-width="1.1"/>
<text x="200.25" y="1130.90" font-size="16.61" textLength="33.78" lengthAdjust="spacingAndGlyphs" fill="#050505">0.05</text>
<line x1="282.10" y1="1112.90" x2="282.10" y2="1116.10" stroke="#2b2b2b" stroke-width="1.1"/>
<text x="265.05" y="1130.90" font-size="16.61" textLength="34.06" lengthAdjust="spacingAndGlyphs" fill="#050505">0.10</text>
<line x1="346.90" y1="1112.90" x2="346.90" y2="1116.10" stroke="#2b2b2b" stroke-width="1.1"/>
<text x="329.85" y="1130.90" font-size="16.61" textLength="33.78" lengthAdjust="spacingAndGlyphs" fill="#050505">0.15</text>
<line x1="411.70" y1="1112.90" x2="411.70" y2="1116.10" stroke="#2b2b2b" stroke-width="1.1"/>
<text x="394.65" y="1130.90" font-size="16.61" textLength="34.06" lengthAdjust="spacingAndGlyphs" fill="#050505">0.20</text>
<line x1="476.50" y1="1112.90" x2="476.50" y2="1116.10" stroke="#2b2b2b" stroke-width="1.1"/>
<text x="459.45" y="1130.90" font-size="16.61" textLength="33.78" lengthAdjust="spacingAndGlyphs" fill="#050505">0.25</text>
<line x1="541.30" y1="1112.90" x2="541.30" y2="1116.10" stroke="#2b2b2b" stroke-width="1.1"/>
<text x="524.25" y="1130.90" font-size="16.61" textLength="34.06" lengthAdjust="spacingAndGlyphs" fill="#050505">0.30</text>
<line x1="129.30" y1="841.50" x2="132.50" y2="841.50" stroke="#2b2b2b" stroke-width="1.1"/>
<text x="89.44" y="847.90" font-size="17.23" textLength="35.35" lengthAdjust="spacingAndGlyphs" fill="#050505">RUS</text>
<line x1="129.30" y1="870.17" x2="132.50" y2="870.17" stroke="#2b2b2b" stroke-width="1.1"/>
<text x="74.33" y="876.57" font-size="17.23" textLength="50.54" lengthAdjust="spacingAndGlyphs" fill="#050505">MENA</text>
<line x1="129.30" y1="898.84" x2="132.50" y2="898.84" stroke="#2b2b2b" stroke-width="1.1"/>
<text x="91.05" y="905.24" font-size="17.23" textLength="33.79" lengthAdjust="spacingAndGlyphs" fill="#050505">SSA</text>
<line x1="129.30" y1="927.51" x2="132.50" y2="927.51" stroke="#2b2b2b" stroke-width="1.1"/>
<text x="20.52" y="933.91" font-size="17.23" textLength="104.38" lengthAdjust="spacingAndGlyphs" fill="#050505">Rest Europe</text>
<line x1="129.30" y1="956.18" x2="132.50" y2="956.18" stroke="#2b2b2b" stroke-width="1.1"/>
<text x="90.31" y="962.58" font-size="17.23" textLength="34.44" lengthAdjust="spacingAndGlyphs" fill="#050505">KAZ</text>
<line x1="129.30" y1="984.85" x2="132.50" y2="984.85" stroke="#2b2b2b" stroke-width="1.1"/>
<text x="96.79" y="991.25" font-size="17.23" textLength="27.99" lengthAdjust="spacingAndGlyphs" fill="#050505">CIS</text>
<line x1="129.30" y1="1013.52" x2="132.50" y2="1013.52" stroke="#2b2b2b" stroke-width="1.1"/>
<text x="42.95" y="1019.92" font-size="17.23" textLength="81.79" lengthAdjust="spacingAndGlyphs" fill="#050505">ET region</text>
<line x1="129.30" y1="1042.19" x2="132.50" y2="1042.19" stroke="#2b2b2b" stroke-width="1.1"/>
<text x="69.49" y="1048.59" font-size="17.23" textLength="55.19" lengthAdjust="spacingAndGlyphs" fill="#050505">RoLAC</text>
<line x1="129.30" y1="1070.86" x2="132.50" y2="1070.86" stroke="#2b2b2b" stroke-width="1.1"/>
<text x="87.34" y="1077.26" font-size="17.23" textLength="37.48" lengthAdjust="spacingAndGlyphs" fill="#050505">MEX</text>
<line x1="129.30" y1="1099.53" x2="132.50" y2="1099.53" stroke="#2b2b2b" stroke-width="1.1"/>
<text x="47.21" y="1105.93" font-size="17.23" textLength="77.76" lengthAdjust="spacingAndGlyphs" fill="#050505">North EU</text>
<text x="198.94" y="820.40" font-size="17.23" textLength="310.35" lengthAdjust="spacingAndGlyphs" font-weight="bold" font-style="italic" fill="#000">Change in oil exports to Europe</text>
<text x="178.40" y="1151.30" font-size="17.23" textLength="351.95" lengthAdjust="spacingAndGlyphs" fill="#050505">Percentage of total oil exports to Europe</text>
<text x="-15.93" y="971.50" font-size="17.23" textLength="59.16" lengthAdjust="spacingAndGlyphs" transform="rotate(-90 13.70 971.50)" fill="#050505">Region</text>
<line x1="775.00" y1="826.50" x2="775.00" y2="1112.90" stroke="#d0d0d0" stroke-width="0.9" stroke-dasharray="2.6 1.6"/>
<line x1="870.47" y1="826.50" x2="870.47" y2="1112.90" stroke="#d0d0d0" stroke-width="0.9" stroke-dasharray="2.6 1.6"/>
<line x1="965.94" y1="826.50" x2="965.94" y2="1112.90" stroke="#d0d0d0" stroke-width="0.9" stroke-dasharray="2.6 1.6"/>
<line x1="1061.41" y1="826.50" x2="1061.41" y2="1112.90" stroke="#d0d0d0" stroke-width="0.9" stroke-dasharray="2.6 1.6"/>
<line x1="1156.88" y1="826.50" x2="1156.88" y2="1112.90" stroke="#d0d0d0" stroke-width="0.9" stroke-dasharray="2.6 1.6"/>
<line x1="1143.20" y1="841.20" x2="775.00" y2="841.20" stroke="#fa6464" stroke-width="2"/>
<path d="M782.20 838.47 L775.00 841.20 L782.20 843.93 Z" fill="#ee1c1c"/>
<line x1="989.30" y1="869.90" x2="1178.10" y2="869.90" stroke="#5cb04e" stroke-width="2"/>
<path d="M1170.90 867.17 L1178.10 869.90 L1170.90 872.63 Z" fill="#2d911a"/>
<line x1="968.20" y1="898.60" x2="1022.00" y2="898.60" stroke="#5cb04e" stroke-width="2"/>
<path d="M1014.80 895.87 L1022.00 898.60 L1014.80 901.33 Z" fill="#2d911a"/>
<line x1="855.50" y1="927.30" x2="885.50" y2="927.30" stroke="#5cb04e" stroke-width="2"/>
<path d="M878.30 924.57 L885.50 927.30 L878.30 930.03 Z" fill="#2d911a"/>
<line x1="802.80" y1="956.00" x2="834.70" y2="956.00" stroke="#5cb04e" stroke-width="2"/>
<path d="M827.50 953.27 L834.70 956.00 L827.50 958.73 Z" fill="#2d911a"/>
<line x1="799.90" y1="984.70" x2="823.20" y2="984.70" stroke="#5cb04e" stroke-width="2"/>
<path d="M816.00 981.97 L823.20 984.70 L816.00 987.43 Z" fill="#2d911a"/>
<line x1="790.30" y1="1013.40" x2="804.00" y2="1013.40" stroke="#5cb04e" stroke-width="2"/>
<path d="M796.80 1010.67 L804.00 1013.40 L796.80 1016.13 Z" fill="#2d911a"/>
<line x1="782.80" y1="1042.10" x2="795.20" y2="1042.10" stroke="#5cb04e" stroke-width="2"/>
<path d="M788.00 1039.37 L795.20 1042.10 L788.00 1044.83 Z" fill="#2d911a"/>
<line x1="781.50" y1="1070.80" x2="791.10" y2="1070.80" stroke="#5cb04e" stroke-width="2"/>
<path d="M783.90 1068.07 L791.10 1070.80 L783.90 1073.53 Z" fill="#2d911a"/>
<line x1="776.00" y1="1099.50" x2="776.80" y2="1099.50" stroke="#5cb04e" stroke-width="2"/>
<path d="M776.00 1096.77 L776.80 1099.50 L776.00 1102.23 Z" fill="#2d911a"/>
<circle cx="1143.20" cy="841.50" r="4.9" fill="#d1ae37" fill-opacity="0.9"/>
<circle cx="989.30" cy="870.20" r="4.9" fill="#d1ae37" fill-opacity="0.9"/>
<circle cx="968.20" cy="898.90" r="4.9" fill="#d1ae37" fill-opacity="0.9"/>
<circle cx="855.50" cy="927.60" r="4.9" fill="#d1ae37" fill-opacity="0.9"/>
<circle cx="802.80" cy="956.30" r="4.9" fill="#d1ae37" fill-opacity="0.9"/>
<circle cx="799.90" cy="985.00" r="4.9" fill="#d1ae37" fill-opacity="0.9"/>
<circle cx="790.30" cy="1013.70" r="4.9" fill="#d1ae37" fill-opacity="0.9"/>
<circle cx="782.80" cy="1042.40" r="4.9" fill="#d1ae37" fill-opacity="0.9"/>
<circle cx="781.50" cy="1071.10" r="4.9" fill="#d1ae37" fill-opacity="0.9"/>
<circle cx="776.00" cy="1099.80" r="4.9" fill="#d1ae37" fill-opacity="0.9"/>
<circle cx="775.00" cy="841.50" r="4.9" fill="#3b8c7d"/>
<circle cx="1178.10" cy="870.20" r="4.9" fill="#3b8c7d"/>
<circle cx="1022.00" cy="898.90" r="4.9" fill="#3b8c7d"/>
<circle cx="885.50" cy="927.60" r="4.9" fill="#3b8c7d"/>
<circle cx="834.70" cy="956.30" r="4.9" fill="#3b8c7d"/>
<circle cx="823.20" cy="985.00" r="4.9" fill="#3b8c7d"/>
<circle cx="804.00" cy="1013.70" r="4.9" fill="#3b8c7d"/>
<circle cx="795.20" cy="1042.40" r="4.9" fill="#3b8c7d"/>
<circle cx="791.10" cy="1071.10" r="4.9" fill="#3b8c7d"/>
<circle cx="776.80" cy="1099.80" r="4.9" fill="#3b8c7d"/>
<rect x="1013.50" y="1046.50" width="176.10" height="57.75" rx="3" ry="3" fill="#fff" fill-opacity="0.8" stroke="#d6d6d6" stroke-width="1"/>
<circle cx="1037.50" cy="1062.50" r="4.9" fill="#d1ae37" fill-opacity="0.9"/>
<circle cx="1037.50" cy="1088.20" r="4.9" fill="#3b8c7d"/>
<text x="1068.12" y="1067.30" font-size="17.23" textLength="105.23" lengthAdjust="spacingAndGlyphs" fill="#050505">Pre invasion</text>
<text x="1068.12" y="1093.00" font-size="17.23" textLength="113.97" lengthAdjust="spacingAndGlyphs" fill="#050505">Post invasion</text>
<rect x="754.80" y="826.50" width="443.40" height="286.40" fill="none" stroke="#2b2b2b" stroke-width="1.15"/>
<line x1="775.00" y1="1112.90" x2="775.00" y2="1116.10" stroke="#2b2b2b" stroke-width="1.1"/>
<text x="762.91" y="1130.90" font-size="16.61" textLength="24.12" lengthAdjust="spacingAndGlyphs" fill="#050505">0.0</text>
<line x1="870.47" y1="1112.90" x2="870.47" y2="1116.10" stroke="#2b2b2b" stroke-width="1.1"/>
<text x="858.39" y="1130.90" font-size="16.61" textLength="23.89" lengthAdjust="spacingAndGlyphs" fill="#050505">0.1</text>
<line x1="965.94" y1="1112.90" x2="965.94" y2="1116.10" stroke="#2b2b2b" stroke-width="1.1"/>
<text x="953.86" y="1130.90" font-size="16.61" textLength="23.81" lengthAdjust="spacingAndGlyphs" fill="#050505">0.2</text>
<line x1="1061.41" y1="1112.90" x2="1061.41" y2="1116.10" stroke="#2b2b2b" stroke-width="1.1"/>
<text x="1049.33" y="1130.90" font-size="16.61" textLength="24.01" lengthAdjust="spacingAndGlyphs" fill="#050505">0.3</text>
<line x1="1156.88" y1="1112.90" x2="1156.88" y2="1116.10" stroke="#2b2b2b" stroke-width="1.1"/>
<text x="1144.80" y="1130.90" font-size="16.61" textLength="24.11" lengthAdjust="spacingAndGlyphs" fill="#050505">0.4</text>
<line x1="751.60" y1="841.50" x2="754.80" y2="841.50" stroke="#2b2b2b" stroke-width="1.1"/>
<text x="711.74" y="847.90" font-size="17.23" textLength="35.35" lengthAdjust="spacingAndGlyphs" fill="#050505">RUS</text>
<line x1="751.60" y1="870.20" x2="754.80" y2="870.20" stroke="#2b2b2b" stroke-width="1.1"/>
<text x="696.63" y="876.60" font-size="17.23" textLength="50.54" lengthAdjust="spacingAndGlyphs" fill="#050505">MENA</text>
<line x1="751.60" y1="898.90" x2="754.80" y2="898.90" stroke="#2b2b2b" stroke-width="1.1"/>
<text x="642.82" y="905.30" font-size="17.23" textLength="104.38" lengthAdjust="spacingAndGlyphs" fill="#050505">Rest Europe</text>
<line x1="751.60" y1="927.60" x2="754.80" y2="927.60" stroke="#2b2b2b" stroke-width="1.1"/>
<text x="669.51" y="934.00" font-size="17.23" textLength="77.76" lengthAdjust="spacingAndGlyphs" fill="#050505">North EU</text>
<line x1="751.60" y1="956.30" x2="754.80" y2="956.30" stroke="#2b2b2b" stroke-width="1.1"/>
<text x="711.47" y="962.70" font-size="17.23" textLength="35.69" lengthAdjust="spacingAndGlyphs" fill="#050505">USA</text>
<line x1="751.60" y1="985.00" x2="754.80" y2="985.00" stroke="#2b2b2b" stroke-width="1.1"/>
<text x="713.35" y="991.40" font-size="17.23" textLength="33.79" lengthAdjust="spacingAndGlyphs" fill="#050505">SSA</text>
<line x1="751.60" y1="1013.70" x2="754.80" y2="1013.70" stroke="#2b2b2b" stroke-width="1.1"/>
<text x="689.13" y="1020.10" font-size="17.23" textLength="56.58" lengthAdjust="spacingAndGlyphs" fill="#050505">RoAsia</text>
<line x1="751.60" y1="1042.40" x2="754.80" y2="1042.40" stroke="#2b2b2b" stroke-width="1.1"/>
<text x="691.79" y="1048.80" font-size="17.23" textLength="55.19" lengthAdjust="spacingAndGlyphs" fill="#050505">RoLAC</text>
<line x1="751.60" y1="1071.10" x2="754.80" y2="1071.10" stroke="#2b2b2b" stroke-width="1.1"/>
<text x="719.09" y="1077.50" font-size="17.23" textLength="27.99" lengthAdjust="spacingAndGlyphs" fill="#050505">CIS</text>
<line x1="751.60" y1="1099.80" x2="754.80" y2="1099.80" stroke="#2b2b2b" stroke-width="1.1"/>
<text x="712.61" y="1106.20" font-size="17.23" textLength="34.44" lengthAdjust="spacingAndGlyphs" fill="#050505">KAZ</text>
<text x="815.75" y="820.40" font-size="17.23" textLength="321.09" lengthAdjust="spacingAndGlyphs" font-weight="bold" font-style="italic" fill="#000">Change in gas exports to Europe</text>
<text x="795.33" y="1151.30" font-size="17.23" textLength="362.36" lengthAdjust="spacingAndGlyphs" fill="#050505">Percentage of total gas exports to Europe</text>
</svg></body></html>
